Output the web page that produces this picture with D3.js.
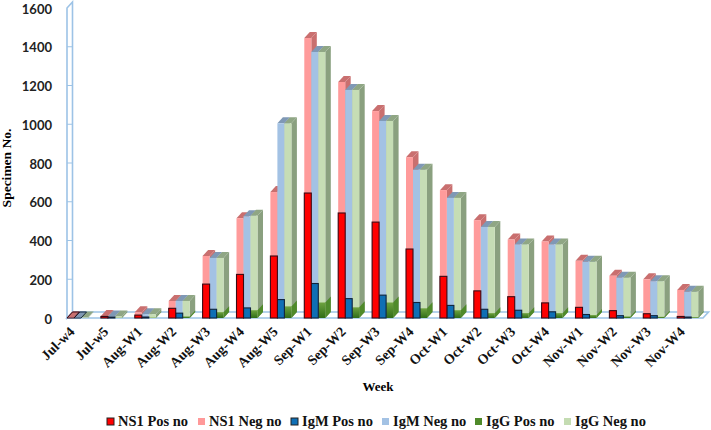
<!DOCTYPE html>
<html><head><meta charset="utf-8">
<script src="https://cdnjs.cloudflare.com/ajax/libs/d3/7.8.5/d3.min.js"></script>
<style>html,body{margin:0;background:#fff}svg{display:block}</style></head><body>
<svg id="c" width="711" height="430"></svg>
<script>
const categories=["Jul-w4","Jul-w5","Aug-W1","Aug-W2","Aug-W3","Aug-W4","Aug-W5","Sep-W1","Sep-W2","Sep-W3","Sep-W4","Oct-W1","Oct-W2","Oct-W3","Oct-W4","Nov-W1","Nov-W2","Nov-W3","Nov-W4"];
const yTicks=[0,200,400,600,800,1000,1200,1400,1600];
const ns1Pos=[0,8,15,50,175,225,320,645,542,495,356,215,140,110,78,55,38,22,8];
const ns1Neg=[2,10,30,88,320,515,650,1445,1218,1068,830,660,505,405,395,295,218,200,145];
const igmPos=[0,5,5,25,45,52,95,178,100,118,80,65,45,40,32,18,12,12,5];
const igmNeg=[2,8,20,88,310,525,1005,1373,1177,1017,765,620,470,380,380,290,208,190,135];
const igGPos=[0,1,2,8,30,40,60,80,55,80,50,40,25,25,25,15,8,6,4];
const igGNeg=[2,8,20,88,310,528,1005,1373,1177,1017,765,620,470,380,380,290,208,190,135];
const legendNames=["NS1 Pos no","NS1 Neg no","IgM Pos no","IgM Neg no","IgG Pos no","IgG Neg no"];

const legendX=[107,198,291,382,475,564];
const legendCols=["#ff0000","#ff9999","#0f6fb5","#a3c2e4","#4f8a2a","#c4dcb2"];
const DX=5.5,DY=-6,W=7;
const svg=d3.select("#c");
const y=d3.scaleLinear().domain([0,1600]).range([318,8]);
const x=d3.scaleBand().domain(categories).range([67,67+19*33.9]);
const col=d3.scaleBand().domain(["NS1","IgM","IgG"]).range([0,21]);
const wall="#9dc3e6";
const x0=67,x1=703;
svg.append("path").attr("d",`M${x0},318L${x0+DX},312L${x1+DX},312L${x1},318Z`).attr("fill","#fff").attr("stroke",wall).attr("stroke-width",1.6);
svg.append("path").attr("d",`M${x0},318L${x0},8L${x0+DX},2L${x0+DX},312Z`).attr("fill","#fff").attr("stroke",wall).attr("stroke-width",1.6);
svg.append("g").selectAll("line").data(yTicks.slice(1,-1)).join("line")
 .attr("x1",x0).attr("x2",x0+DX).attr("y1",d=>y(d)).attr("y2",d=>y(d)).attr("stroke",wall);

const defs=svg.append("defs");
const gg=defs.append("linearGradient").attr("id","gp").attr("x1",0).attr("x2",0).attr("y1",0).attr("y2",1);
gg.append("stop").attr("offset",0).attr("stop-color","#6ea23f");gg.append("stop").attr("offset",1).attr("stop-color","#2f6d18");

function bar3d(g,cat,grp,v,front,top,side,stroke){
  const l=x(cat)+col(grp),t=y(v),b=y(0),w=W;
  g.append("path").attr("d",`M${l+w},${t}L${l+w+DX},${t+DY}L${l+w+DX},${b+DY}L${l+w},${b}Z`).attr("fill",side);
  const tp=g.append("path").attr("d",`M${l},${t}L${l+DX},${t+DY}L${l+w+DX},${t+DY}L${l+w},${t}Z`).attr("fill",top);
  if(stroke&&v===0){tp.attr("stroke",stroke).attr("stroke-width",1);return;}
  const r=g.append("rect").attr("x",l).attr("y",t).attr("width",w).attr("height",Math.max(0,b-t)).attr("fill",front);
  if(stroke) r.attr("stroke",stroke).attr("stroke-width",1.1);
}
categories.forEach((c,i)=>{
  const g=svg.append("g");
  bar3d(g,c,"NS1",ns1Neg[i],"#ff9b9b","#c96f6f","#c96f6f");
  bar3d(g,c,"IgM",igmNeg[i],"#a3c2e4","#7f98b5","#7f98b5");
  bar3d(g,c,"IgG",igGNeg[i],"#c6ddb5","#8fa684","#8aa07f");
  bar3d(g,c,"IgG",igGPos[i],"url(#gp)","none","#4f8a2a");
});
categories.forEach((c,i)=>{
  const g=svg.append("g");
  bar3d(g,c,"IgM",igmPos[i],"#0f6fb5","none","none","#10243c");
  bar3d(g,c,"NS1",ns1Pos[i],"#ff0000","none","none","#3a0a14");
});
const ya=svg.append("g").attr("transform","translate(67,1)").call(d3.axisLeft(y).tickValues(yTicks).tickFormat(d3.format("d")).tickSize(0).tickPadding(15));
ya.select(".domain").remove();
ya.selectAll("text").attr("font-family","Lato").attr("font-weight",700).attr("font-size",13).attr("fill","#222");
const xa=svg.append("g").attr("transform","translate(0,318)").call(d3.axisBottom(x).tickSize(0));
xa.select(".domain").remove();
xa.selectAll("text").attr("font-family","Liberation Serif").attr("font-weight",700).attr("font-size",14).attr("fill","#111")
 .attr("text-anchor","end").attr("transform","translate(-12,11) rotate(-45)").attr("dy","0.35em").attr("y",0);
svg.append("text").attr("x",378).attr("y",391).attr("text-anchor","middle").attr("font-family","Liberation Serif").attr("font-weight",700).attr("font-size",13).text("Week");
svg.append("text").attr("transform","translate(11,168) rotate(-90)").attr("text-anchor","middle").attr("font-family","Liberation Serif").attr("font-weight",700).attr("font-size",13.5).text("Specimen No.");
const lg=svg.append("g").selectAll("g").data(legendNames).join("g").attr("transform",(d,i)=>`translate(${legendX[i]},0)`);
lg.append("rect").attr("y",418).attr("width",7).attr("height",7).attr("fill",(d,i)=>legendCols[i]).attr("stroke",(d,i)=>i==0||i==2?"#222":"none");
lg.append("text").attr("x",11).attr("y",426).attr("font-family","Liberation Serif").attr("font-weight",700).attr("font-size",14.5).attr("fill","#111").text(d=>d);
</script></body></html>
